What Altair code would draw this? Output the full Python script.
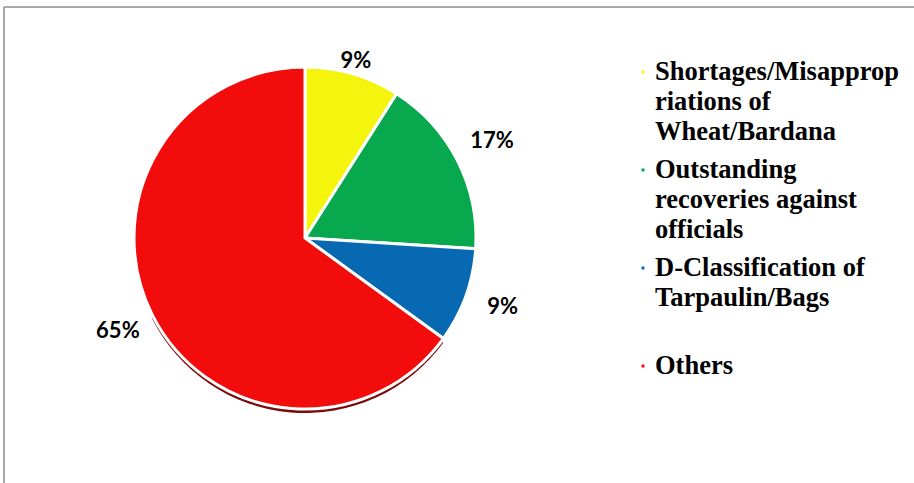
import altair as alt
import pandas as pd

# ---- data ----
categories = [
    "Shortages/Misappropriations of Wheat/Bardana",
    "Outstanding recoveries against officials",
    "D-Classification of Tarpaulin/Bags",
    "Others",
]
values = [9, 17, 9, 65]
legend_wrap = [
    ["Shortages/Misapprop", "riations of", "Wheat/Bardana"],
    ["Outstanding", "recoveries against", "officials"],
    ["D-Classification of", "Tarpaulin/Bags", ""],
    ["Others"],
]
colors = ["#F4F40C", "#07A84E", "#0869B3", "#F20C0C"]

# ---- layout constants ----
W, H = 914, 483
CX, CY, R = 305, 238, 171
LEG_X, LEG_Y0, LINE_H, ITEM_GAP = 655, 72, 30, 8

pie_df = pd.DataFrame({"category": categories, "value": values, "idx": range(len(values))})
pie_df["label"] = pie_df["value"].astype(str) + "%"

rows = []
k = 0
for i, (cat, lines) in enumerate(zip(categories, legend_wrap)):
    for j, ln in enumerate(lines):
        rows.append({"category": cat, "text": ln, "ypix": LEG_Y0 + k * LINE_H + i * ITEM_GAP, "first": j == 0})
        k += 1
leg_df = pd.DataFrame(rows)

color = alt.Color("category:N", scale=alt.Scale(domain=categories, range=colors), legend=None)

base = alt.Chart(pie_df)

shadow = alt.Chart(pd.DataFrame({"a": [0]})).mark_arc(
    theta=2.2, theta2=4.25, outerRadius=R, color="#7a0b0b"
).encode(x=alt.value(CX), y=alt.value(CY + 4))

pie = base.mark_arc(outerRadius=R, stroke="white", strokeWidth=3).encode(
    theta=alt.Theta("value:Q", stack=True),
    order=alt.Order("idx:Q"),
    color=color,
    x=alt.value(CX),
    y=alt.value(CY),
)

lab_font = dict(font="Lato, 'Open Sans', sans-serif", fontWeight="bold", fontSize=22, color="#000000")
labels_top = base.mark_text(radius=182, **lab_font).encode(
    theta=alt.Theta("value:Q", stack=True),
    order=alt.Order("idx:Q"),
    text="label:N",
    x=alt.value(CX),
    y=alt.value(CY - 2),
    opacity=alt.condition("datum.idx == 0", alt.value(1), alt.value(0)),
)
labels_rest = base.mark_text(radius=210, **lab_font).encode(
    theta=alt.Theta("value:Q", stack=True),
    order=alt.Order("idx:Q"),
    text="label:N",
    x=alt.value(CX),
    y=alt.value(CY - 2),
    opacity=alt.condition("datum.idx == 0", alt.value(0), alt.value(1)),
)

leg_text = alt.Chart(leg_df).mark_text(
    align="left", baseline="middle", font="'Liberation Serif', 'Times New Roman', serif",
    fontWeight="bold", fontSize=26.5, color="#000000"
).encode(
    x=alt.value(LEG_X),
    y=alt.Y("ypix:Q", scale=None),
    text="text:N",
)
leg_marks = alt.Chart(leg_df).transform_filter("datum.first").mark_square(size=9, opacity=1).encode(
    x=alt.value(LEG_X - 12),
    y=alt.Y("ypix:Q", scale=None),
    color=color,
)

border_top = alt.Chart(pd.DataFrame({"a": [0]})).mark_rule(color="#8c8c8c", strokeWidth=1.5).encode(
    x=alt.value(4), x2=alt.value(W), y=alt.value(7)
)
border_left = alt.Chart(pd.DataFrame({"a": [0]})).mark_rule(color="#8c8c8c", strokeWidth=1.5).encode(
    x=alt.value(4), y=alt.value(7), y2=alt.value(H)
)

chart = alt.layer(
    border_top, border_left, shadow, pie, labels_top, labels_rest, leg_text, leg_marks
).properties(
    width=W, height=H, autosize=alt.AutoSizeParams(type="none"), padding=0, background="white"
).configure_view(stroke=None)

chart.save("out.html", embed_options={"renderer": "svg", "actions": False})
